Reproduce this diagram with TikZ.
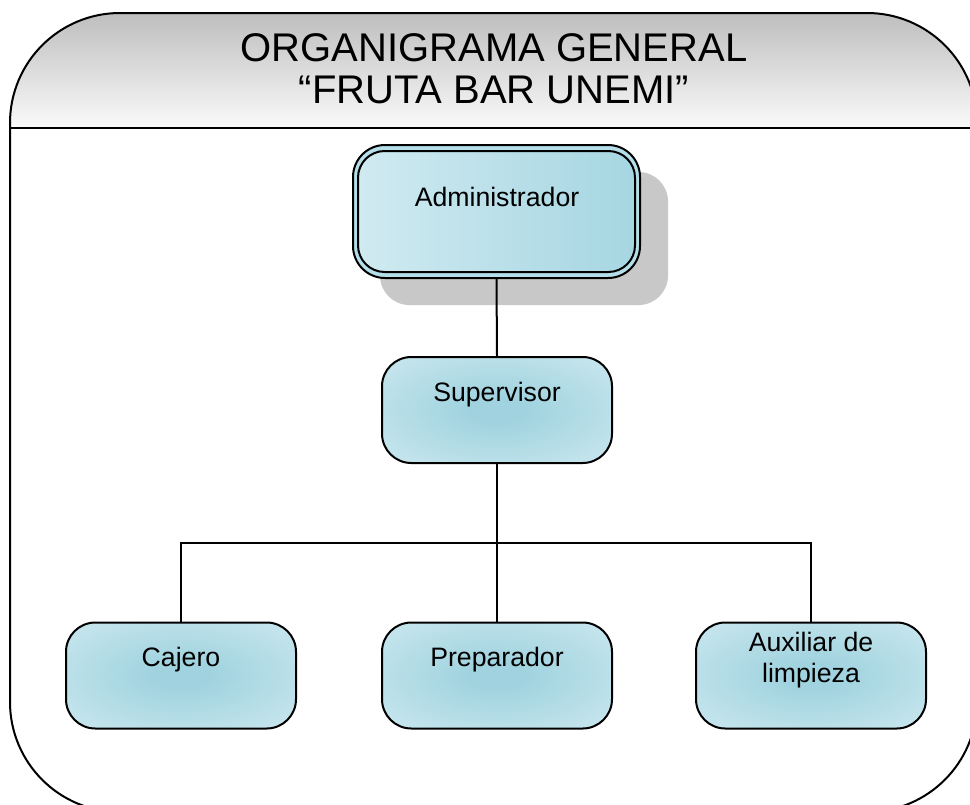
\documentclass[tikz,border=0pt]{standalone}
\usepackage{fontspec}
\setmainfont{Liberation Sans}
\definecolor{hdrtop}{RGB}{190,190,190}
\definecolor{hdrbot}{RGB}{250,250,250}
\definecolor{boxout}{RGB}{206,233,240}
\definecolor{boxin}{RGB}{160,211,223}
\definecolor{admL}{RGB}{208,234,241}
\definecolor{admR}{RGB}{166,214,226}
\definecolor{band}{RGB}{180,222,233}
\definecolor{shadowgray}{RGB}{200,200,200}
\pgfdeclareradialshading{boxshade}{\pgfpoint{0bp}{0bp}}{%
  color(0bp)=(boxin); color(6bp)=(boxin); color(38bp)=(boxout); color(50bp)=(boxout)}
\begin{document}
\begin{tikzpicture}[x=0.75pt,y=-0.75pt,
  line/.style={line width=1.5pt,draw=black},
  orgbox/.style={line, rounded corners=22pt, shading=boxshade,
     minimum width=172.5pt, minimum height=79.5pt, inner sep=0pt},
  boxtext/.style={font=\fontsize{20}{23.5}\selectfont, align=center, inner sep=0pt, text=black},
  conn/.style={line width=1.5pt}]
\useasboundingbox (0,0) rectangle (970,804);
\clip (0,0) rectangle (970,804);
% frame with header
\begin{scope}
  \clip[rounded corners=82.5pt] (10,13) rectangle (977,812);
  \shade[top color=hdrtop, bottom color=hdrbot] (10,13) rectangle (977,128);
\end{scope}
\draw[line, rounded corners=82.5pt] (10,13) rectangle (977,812);
\draw[line] (10,128) -- (977,128);
\node[font=\fontsize{30}{31.5}\selectfont, align=center, inner sep=0pt] (title) at (494,69)
  {ORGANIGRAMA GENERAL\\“FRUTA BAR UNEMI”};
% administrator
\node[fill=shadowgray, rounded corners=22pt, minimum width=216pt, minimum height=99.75pt, inner sep=0pt] (admshadow) at (524,238.5) {};
\node[line, fill=band, rounded corners=24pt, minimum width=215.25pt, minimum height=99.75pt, inner sep=0pt] (adm) at (496.5,211.5) {};
\node[line, rounded corners=20pt, left color=admL, right color=admR, minimum width=207.75pt, minimum height=90.75pt, inner sep=0pt] (admin) at (496.5,211.5) {};
\node[boxtext] (admt) at (497,197) {Administrador};
% supervisor
\node[orgbox] (sup) at (497,410) {};
\node[boxtext] (supt) at (497,395) {Supervisor};
% bottom row
\node[orgbox] (caj) at (181,675.5) {};
\node[boxtext] (cajt) at (181,660) {Cajero};
\node[orgbox] (prep) at (497,675.5) {};
\node[boxtext] (prept) at (497,660) {Preparador};
\node[orgbox] (aux) at (811,675.5) {};
\node[boxtext] (auxt) at (811,660) {Auxiliar de\\limpieza};
% connectors
\coordinate (j) at (497,543);
\draw[conn] (adm.south) -- (sup.north);
\draw[conn] (sup.south) -- (j);
\draw[conn] (caj.north) |- (j) -| (aux.north);
\draw[conn] (j) -- (prep.north);
\end{tikzpicture}
\end{document}
